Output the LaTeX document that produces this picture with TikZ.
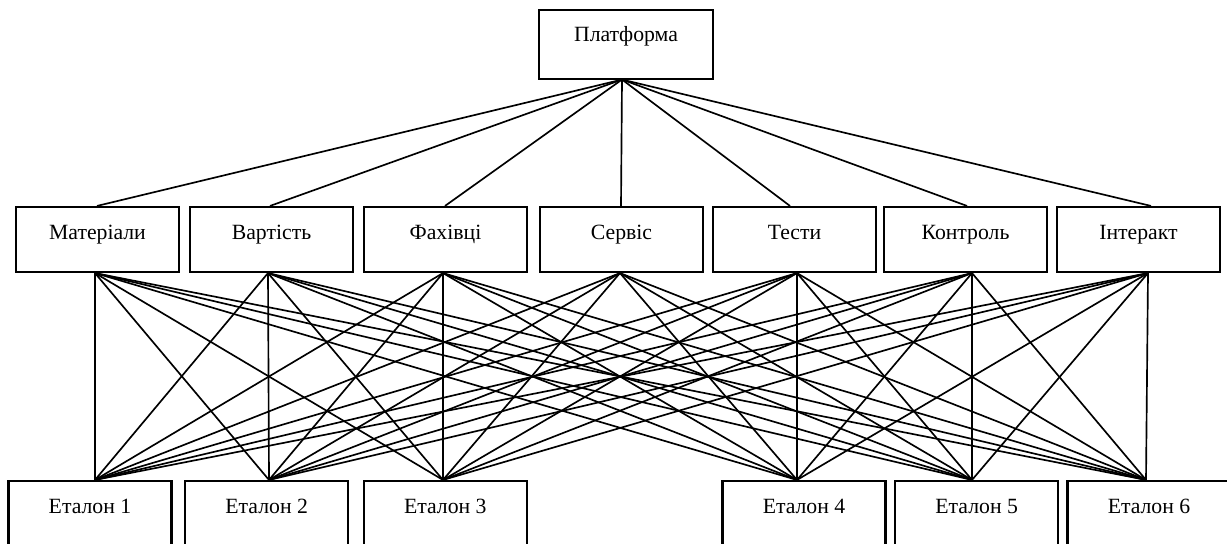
\documentclass[tikz,border=0pt]{standalone}
\usepackage{fontspec}
\setmainfont{Liberation Serif}
\usetikzlibrary{calc}
\begin{document}
\begin{tikzpicture}[x=0.75pt,y=-0.75pt,
  box/.style={draw,line width=1.6pt,rectangle,inner sep=0pt,
    font=\fontsize{16.3}{19}\selectfont,text height=8pt,text depth=8pt},
  midbox/.style={box,minimum width=122.25pt,minimum height=48.75pt},
  topbox/.style={box,minimum width=130.5pt,minimum height=51.75pt,text height=6pt,text depth=10.2pt},
  wire/.style={line width=1.25pt}]
\useasboundingbox (0,0) rectangle (1227,543);
\clip (0,0) rectangle (1227,543);
% nodes
\node[topbox] (p) at (626,44.5) {Платформа};
\node[midbox] (m1) at (97.5,239.5) {Матеріали};
\node[midbox] (m2) at (271.5,239.5) {Вартість};
\node[midbox] (m3) at (445.5,239.5) {Фахівці};
\node[midbox] (m4) at (621.5,239.5) {Сервіс};
\node[midbox] (m5) at (794.5,239.5) {Тести};
\node[midbox] (m6) at (965.5,239.5) {Контроль};
\node[midbox] (m7) at (1138.5,239.5) {Інтеракт};
\node[midbox] (e1) at (90,513.5) {Еталон 1};
\node[midbox] (e2) at (266.7,513.5) {Еталон 2};
\node[midbox] (e3) at (445.3,513.5) {Еталон 3};
\node[midbox] (e4) at (804,513.5) {Еталон 4};
\node[midbox] (e5) at (976.7,513.5) {Еталон 5};
\node[midbox] (e6) at (1149,513.5) {Еталон 6};
% ports
\coordinate (pb) at ($(p.south)+(-4,-0.5)$);
\foreach \i/\dt/\db in {1/-0.5/-2.5,2/-1.5/-3.5,3/-0.5/-2.5,4/-0.5/-1.5,5/-4.5/2.5,6/1.5/6.5,7/12.5/9.5}{
  \coordinate (mt\i) at ($(m\i.north)+(\dt,0)$);
  \coordinate (mb\i) at ($(m\i.south)+(\db,0)$);
}
\foreach \j/\d in {1/5,2/2.3,3/-2.3,4/-7,5/-4.7,6/-3}{
  \coordinate (et\j) at ($(e\j.north)+(\d,0)$);
}
% connectors
\foreach \i in {1,...,7}{\draw[wire] (pb) -- (mt\i);}
\foreach \i in {1,...,7}{
  \foreach \j in {1,...,6}{\draw[wire] (mb\i) -- (et\j);}
}
\end{tikzpicture}
\end{document}
